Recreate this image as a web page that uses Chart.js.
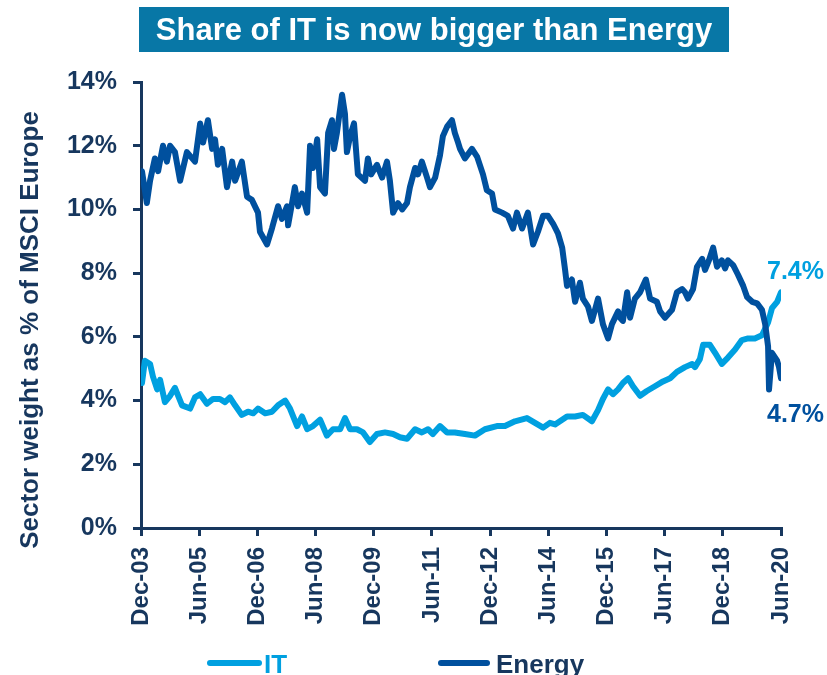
<!DOCTYPE html>
<html>
<head>
<meta charset="utf-8">
<script src="https://cdn.jsdelivr.net/npm/chart.js@4.4.0/dist/chart.umd.min.js"></script>
<style>
  html, body { margin: 0; padding: 0; background: #fff; }
</style>
</head>
<body>
<canvas id="chart" width="827" height="675"></canvas>
<script>
// months since Dec-03
const tickLabels = ['Dec-03', 'Jun-05', 'Dec-06', 'Jun-08', 'Dec-09', 'Jun-11', 'Dec-12', 'Jun-14', 'Dec-15', 'Jun-17', 'Dec-18', 'Jun-20'];

const energyMonths = [0.3, 1.8, 2.8, 4.3, 5.3, 6.8, 8.0, 9.0, 10.5, 12.1,
  14.2, 16.7, 18.3, 19.2, 20.7, 22.0, 22.9, 23.8, 25.1, 26.6,
  28.2, 29.1, 31.2, 32.8, 34.3, 36.2, 36.8, 39.0, 40.5, 42.4,
  43.6, 45.2, 45.5, 47.0, 47.6, 48.6, 49.8, 51.4, 52.3, 53.2,
  54.5, 55.4, 56.9, 57.9, 59.1, 59.7, 60.6, 62.2, 63.1, 63.7,
  64.7, 65.9, 67.1, 69.3, 70.2, 71.2, 73.0, 74.6, 76.1, 77.0,
  78.0, 79.5, 80.8, 82.3, 83.2, 84.8, 85.7, 86.9, 88.5, 89.4,
  91.0, 92.5, 93.4, 94.7, 96.2, 97.1, 98.1, 98.7, 100.2, 102.4,
  104.0, 105.8, 107.0, 108.6, 109.5, 111.7, 113.5, 115.1, 116.3, 117.9,
  119.7, 121.3, 122.8, 124.4, 125.9, 127.5, 129.0, 130.3, 131.2, 131.8,
  133.3, 134.3, 135.8, 136.7, 138.3, 139.5, 141.4, 142.9, 144.5, 145.7,
  147.6, 148.2, 149.1, 150.4, 151.3, 152.8, 154.4, 156.2, 157.5, 159.6,
  160.6, 162.1, 164.3, 165.8, 167.4, 168.3, 169.2, 170.8, 172.0, 173.6,
  174.5, 175.7, 177.0, 178.2, 179.7, 180.7, 181.6, 183.2, 184.7, 186.3,
  187.5, 189.1, 190.6, 192.1, 193.1, 194.0, 194.3, 195.2, 196.8, 197.4,
  198.0];
const energyValues = [11.2, 10.2, 10.9, 11.6, 11.2, 12.0, 11.5, 12.0, 11.8, 10.9,
  11.8, 11.5, 12.7, 12.1, 12.8, 11.9, 12.2, 11.4, 11.9, 10.7,
  11.5, 10.9, 11.5, 10.4, 10.3, 9.9, 9.3, 8.9, 9.4, 10.1,
  9.7, 10.1, 9.5, 10.35, 10.7, 10.1, 10.5, 9.9, 12.0, 11.3,
  12.2, 10.7, 10.5, 12.4, 12.8, 11.9, 12.4, 13.6, 13.0, 11.8,
  12.3, 12.7, 11.1, 10.9, 11.6, 11.1, 11.4, 11.0, 11.5, 10.9,
  9.9, 10.2, 10.0, 10.2, 10.7, 11.3, 11.1, 11.5, 11.0, 10.7,
  11.0, 11.7, 12.3, 12.6, 12.8, 12.4, 12.1, 11.9, 11.6, 11.9,
  11.65, 11.1, 10.6, 10.5, 10.0, 9.9, 9.8, 9.4, 9.9, 9.4,
  9.9, 8.9, 9.3, 9.8, 9.8, 9.55, 9.25, 8.8, 8.1, 7.6,
  7.8, 7.1, 7.7, 7.2, 6.95, 6.5, 7.2, 6.4, 5.95, 6.4,
  6.8, 6.6, 6.5, 7.4, 6.6, 7.2, 7.4, 7.8, 7.2, 7.1,
  6.8, 6.6, 6.85, 7.4, 7.5, 7.4, 7.2, 7.5, 8.2, 8.45,
  8.1, 8.4, 8.8, 8.2, 8.4, 8.15, 8.4, 8.25, 7.95, 7.6,
  7.25, 7.1, 7.05, 6.85, 6.4, 5.7, 4.35, 5.5, 5.25, 5.05,
  4.7];

const itMonths = [0.3, 1.2, 2.8, 3.7, 5.0, 5.9, 7.4, 9.0, 10.5, 12.7,
  15.2, 16.7, 18.3, 20.4, 22.3, 24.4, 26.0, 27.5, 29.1, 31.2,
  33.1, 34.7, 36.2, 38.4, 40.5, 42.4, 44.6, 46.1, 48.3, 49.8,
  51.4, 53.2, 55.4, 57.5, 59.4, 61.6, 63.1, 64.7, 66.8, 68.7,
  70.8, 73.0, 75.5, 78.0, 80.1, 82.3, 84.8, 86.9, 88.8, 90.3,
  92.5, 94.7, 97.1, 100.2, 103.3, 106.4, 110.1, 112.6, 115.7, 119.4,
  121.9, 124.4, 126.5, 128.1, 131.8, 134.3, 136.7, 139.5, 141.4, 142.9,
  144.5, 146.0, 147.6, 149.1, 150.7, 152.2, 154.4, 156.5, 159.0, 161.5,
  163.7, 165.8, 168.3, 170.5, 171.4, 172.9, 173.9, 176.0, 177.6, 179.7,
  181.6, 183.8, 185.9, 187.8, 189.9, 192.1, 194.0, 195.2, 196.8, 198.0];
const itValues = [4.55, 5.25, 5.15, 4.75, 4.35, 4.65, 3.95, 4.15, 4.4, 3.85,
  3.75, 4.1, 4.2, 3.9, 4.05, 4.05, 3.95, 4.1, 3.85, 3.55,
  3.65, 3.6, 3.75, 3.6, 3.65, 3.85, 4.0, 3.75, 3.2, 3.5,
  3.1, 3.2, 3.4, 2.9, 3.1, 3.1, 3.45, 3.1, 3.1, 3.0,
  2.7, 2.95, 3.0, 2.95, 2.85, 2.8, 3.1, 3.0, 3.1, 2.95,
  3.2, 3.0, 3.0, 2.95, 2.9, 3.1, 3.2, 3.2, 3.35, 3.45,
  3.3, 3.15, 3.3, 3.25, 3.5, 3.5, 3.55, 3.35, 3.7, 4.05,
  4.35, 4.2, 4.35, 4.55, 4.7, 4.45, 4.15, 4.3, 4.45, 4.6,
  4.7, 4.9, 5.05, 5.15, 5.05, 5.3, 5.75, 5.75, 5.5, 5.15,
  5.35, 5.6, 5.9, 5.95, 5.95, 6.05, 6.45, 6.9, 7.1, 7.4];

const NAVY = '#17375e';
const IT_BLUE = '#00a0e0';
const ENERGY_BLUE = '#00509e';
const FONT = '"Liberation Sans", Arial, sans-serif';

function toPoints(xs, ys) {
  return xs.map((x, i) => ({ x: x, y: ys[i] }));
}

// title box, axis title, end labels and legend
const decorations = {
  id: 'decorations',
  afterDraw(chart) {
    const ctx = chart.ctx;
    ctx.save();

    ctx.fillStyle = '#0877a6';
    ctx.fillRect(139, 7, 590, 45);
    ctx.fillStyle = '#ffffff';
    ctx.font = 'bold 31px ' + FONT;
    ctx.textAlign = 'center';
    ctx.textBaseline = 'middle';
    ctx.fillText('Share of IT is now bigger than Energy', 434, 31);

    ctx.save();
    ctx.translate(31, 330);
    ctx.rotate(-Math.PI / 2);
    ctx.fillStyle = NAVY;
    ctx.font = 'bold 26px ' + FONT;
    ctx.fillText('Sector weight as % of MSCI Europe', 0, 0);
    ctx.restore();

    const itLast = chart.getDatasetMeta(0).data.at(-1);
    const enLast = chart.getDatasetMeta(1).data.at(-1);
    ctx.font = 'bold 25px ' + FONT;
    ctx.textAlign = 'left';
    ctx.fillStyle = IT_BLUE;
    ctx.fillText(itValues.at(-1).toFixed(1) + '%', itLast.x - 14, itLast.y - 20);
    ctx.fillStyle = ENERGY_BLUE;
    ctx.fillText(energyValues.at(-1).toFixed(1) + '%', enLast.x - 14, enLast.y + 37);

    // legend
    ctx.lineCap = 'round';
    ctx.lineWidth = 6;
    ctx.font = 'bold 26px ' + FONT;
    ctx.textBaseline = 'alphabetic';
    ctx.strokeStyle = IT_BLUE;
    ctx.beginPath(); ctx.moveTo(210, 663); ctx.lineTo(259, 663); ctx.stroke();
    ctx.fillStyle = IT_BLUE;
    ctx.fillText('IT', 264, 673);
    ctx.strokeStyle = ENERGY_BLUE;
    ctx.beginPath(); ctx.moveTo(441, 663); ctx.lineTo(487, 663); ctx.stroke();
    ctx.fillStyle = NAVY;
    ctx.fillText('Energy', 496, 673);

    ctx.restore();
  }
};

new Chart(document.getElementById('chart'), {
  type: 'line',
  data: {
    datasets: [{
      label: 'IT',
      data: toPoints(itMonths, itValues),
      borderColor: IT_BLUE,
      borderWidth: 6,
      pointRadius: 0,
      tension: 0,
      borderJoinStyle: 'round',
      borderCapStyle: 'round',
      order: 1
    }, {
      label: 'Energy',
      data: toPoints(energyMonths, energyValues),
      borderColor: ENERGY_BLUE,
      borderWidth: 6,
      pointRadius: 0,
      tension: 0,
      borderJoinStyle: 'round',
      borderCapStyle: 'round',
      order: 0
    }]
  },
  options: {
    responsive: false,
    animation: false,
    layout: { padding: { top: 82, right: 46, bottom: 0, left: 0 } },
    plugins: {
      legend: { display: false },
      tooltip: { enabled: false }
    },
    scales: {
      x: {
        type: 'linear',
        min: 0,
        max: 198,
        afterFit(scale) { scale.height = 147; },
        ticks: {
          stepSize: 18,
          autoSkip: false,
          minRotation: 90,
          maxRotation: 90,
          padding: 11,
          color: NAVY,
          font: { family: FONT, size: 24, weight: 'bold' },
          callback: (v) => tickLabels[Math.round(v / 18)]
        },
        grid: {
          drawOnChartArea: false,
          drawTicks: true,
          tickLength: 8,
          color: NAVY,
          lineWidth: 3
        },
        border: { display: true, color: NAVY, width: 3 }
      },
      y: {
        min: 0,
        max: 14,
        afterFit(scale) { scale.width = 141; },
        ticks: {
          stepSize: 2,
          padding: 16,
          color: NAVY,
          font: { family: FONT, size: 25, weight: 'bold' },
          callback: (v) => v + '%'
        },
        grid: {
          drawOnChartArea: false,
          drawTicks: true,
          tickLength: 8,
          color: NAVY,
          lineWidth: 3
        },
        border: { display: true, color: NAVY, width: 3 }
      }
    }
  },
  plugins: [decorations]
});
</script>
</body>
</html>
